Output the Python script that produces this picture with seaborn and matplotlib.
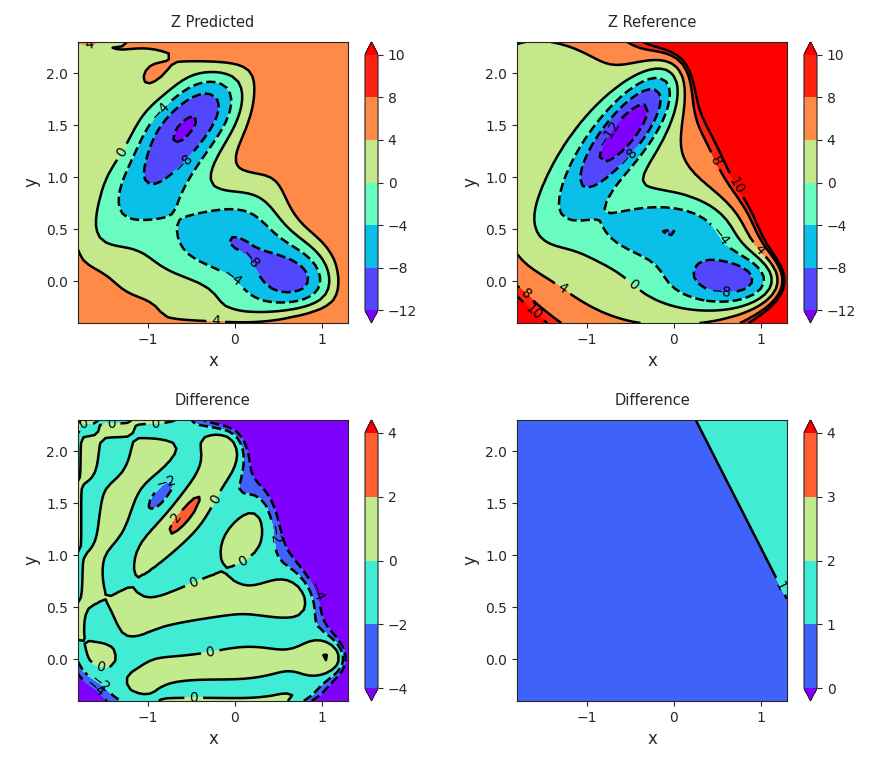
import numpy as np
import matplotlib
matplotlib.use("Agg")
import matplotlib.pyplot as plt
import seaborn as sns
from numpy.polynomial import legendre as L

# Mueller-Brown potential terms (energies shown divided by 10)
A = [-200, -100, -170, 15]
a = [-1, -1, -6.5, 0.7]
b = [0, 0, 11, 0.6]
c = [-10, -10, -6.5, 0.7]
x0 = [1, 0, -0.5, -1]
y0 = [0, 0.5, 1.5, 1]
z_scale = 0.1

x_range = [-1.8, 1.3]
y_range = [-0.4, 2.3]
n_grid = 50

# surrogate model: Legendre polynomial fitted to clipped targets
pred_cap = 6
pred_degree = 8

# second difference map, roughly linear, "1" contour on the right
err_coef = [0.62, 0.23, 0.14]

z_levels = [-12, -8, -4, 0, 4, 8, 10]
diff_levels = [-4, -2, 0, 2, 4]
err_levels = [0, 1, 2, 3, 4]

sns.set_style("ticks")
cmap = sns.color_palette("rainbow", as_cmap=True)

xs = np.linspace(x_range[0], x_range[1], n_grid)
ys = np.linspace(y_range[0], y_range[1], n_grid)
X, Y = np.meshgrid(xs, ys)

Z_ref = np.zeros_like(X)
for k in range(4):
    Z_ref += A[k] * np.exp(a[k] * (X - x0[k]) ** 2
                           + b[k] * (X - x0[k]) * (Y - y0[k])
                           + c[k] * (Y - y0[k]) ** 2)
Z_ref = Z_ref * z_scale

# fit on scaled coords
u = (X - np.mean(x_range)) / (np.diff(x_range)[0] / 2)
v = (Y - np.mean(y_range)) / (np.diff(y_range)[0] / 2)
V = L.legvander2d(u.ravel(), v.ravel(), [pred_degree, pred_degree])
coef, *_ = np.linalg.lstsq(V, np.minimum(Z_ref, pred_cap).ravel(), rcond=None)
Z_pred = (V @ coef).reshape(X.shape)

Z_diff = Z_pred - Z_ref
Z_err = err_coef[0] + err_coef[1] * X + err_coef[2] * Y

fig = plt.figure(figsize=(8.82, 7.65), dpi=100)
W, H = 882, 765
panels = [
    (78, 42, 365, Z_pred, z_levels, "Z Predicted"),
    (517, 42, 804, Z_ref, z_levels, "Z Reference"),
    (78, 420, 365, Z_diff, diff_levels, "Difference"),
    (517, 420, 804, Z_err, err_levels, "Difference"),
]
for left, top, cleft, Z, levels, title in panels:
    ax = fig.add_axes([left / W, 1 - (top + 281) / H, 270 / W, 281 / H])
    cax = fig.add_axes([cleft / W, 1 - (top + 281) / H, 13 / W, 281 / H])
    cf = ax.contourf(X, Y, Z, levels=levels, cmap=cmap, extend="both")
    cs = ax.contour(X, Y, Z, levels=levels, colors="k", linewidths=1.8)
    ax.clabel(cs, inline=True, fontsize=10)
    fig.colorbar(cf, cax=cax)
    ax.set_title(title, fontsize=10.5, pad=11)
    ax.set_xlabel("x", fontsize=12)
    ax.set_ylabel("y", fontsize=12)
    ax.set_xticks([-1, 0, 1])
    ax.set_yticks([0.0, 0.5, 1.0, 1.5, 2.0])

fig.savefig("out.png", dpi=100)
